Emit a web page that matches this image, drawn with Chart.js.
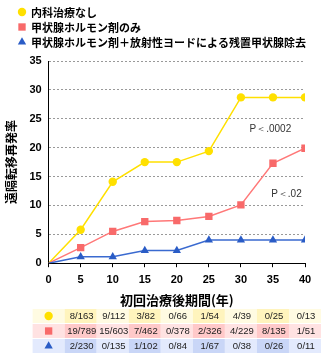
<!DOCTYPE html>
<html>
<head>
<meta charset="utf-8">
<script src="https://cdn.jsdelivr.net/npm/chart.js@4/dist/chart.umd.min.js"></script>
<style>
  html, body { margin: 0; padding: 0; background: #fff; }
  #wrap { width: 327px; height: 357px; position: relative; }
</style>
</head>
<body>
<div id="wrap"><canvas id="chart" width="327" height="357"></canvas></div>
<script>
const years = [0, 5, 10, 15, 20, 25, 30, 35, 40];
const seriesNames = ['内科治療なし', '甲状腺ホルモン剤のみ', '甲状腺ホルモン剤＋放射性ヨードによる残置甲状腺除去'];
const noTreatment = [0, 5.8, 14.1, 17.5, 17.5, 19.4, 28.7, 28.7, 28.7];
const hormoneOnly = [0, 2.7, 5.5, 7.2, 7.4, 8.1, 10.1, 17.3, 19.9];
const hormoneIodine = [0, 1.1, 1.1, 2.2, 2.2, 4.0, 4.0, 4.0, 4.0];
const yTicks = [0, 5, 10, 15, 20, 25, 30, 35];

// patients at risk table (5..40 years)
const tableYears = [5, 10, 15, 20, 25, 30, 35, 40];
const noTreatmentCounts = ['8/163', '9/112', '3/82', '0/66', '1/54', '4/39', '0/25', '0/13'];
const hormoneOnlyCounts = ['19/789', '15/603', '7/462', '0/378', '2/326', '4/229', '8/135', '1/51'];
const hormoneIodineCounts = ['2/230', '0/135', '1/102', '0/84', '1/67', '0/38', '0/26', '0/11'];

const pNotes = [
    { text: 'P＜.0002', x: 34.6, y: 23.1 },
    { text: 'P＜.02', x: 37.1, y: 12.0 }
];

const colors = ['#ffe000', '#f86a6a', '#2a5cc6'];
const lineColors = ['#ffe000', '#ff7878', '#3a6ad0'];
const styles = ['circle', 'rect', 'triangle'];
const radii = [4.2, 5.2, 4.8];
const rowBg = [['#fffbe2', '#fff4bd'], ['#ffe2e2', '#ffc9c9'], ['#e3eafd', '#c9d6f7']];

const jp = "'Noto Sans CJK JP', sans-serif";
const num = "'Liberation Sans', Arial, sans-serif";

const extras = {
    id: 'extras',
    afterDraw(chart) {
        const ctx = chart.ctx;
        const x = chart.scales.x, y = chart.scales.y;
        const H = Chart.helpers;
        ctx.save();

        // legend
        seriesNames.forEach((name, i) => {
            const cy = 12 + i * 15;
            ctx.fillStyle = colors[i];
            ctx.strokeStyle = colors[i];
            H.drawPoint(ctx, { pointStyle: styles[i], radius: radii[i], rotation: 0, borderWidth: 0 }, 22, cy);
            ctx.fillStyle = '#000';
            ctx.font = 'bold 11px ' + jp;
            ctx.textAlign = 'left';
            ctx.textBaseline = 'middle';
            ctx.fillText(name, 31, cy + 1);
        });

        // p-values
        ctx.font = '10px ' + num;
        ctx.fillStyle = '#333';
        ctx.textAlign = 'center';
        ctx.textBaseline = 'middle';
        pNotes.forEach(p => ctx.fillText(p.text, x.getPixelForValue(p.x), y.getPixelForValue(p.y)));

        // table
        const rows = [noTreatmentCounts, hormoneOnlyCounts, hormoneIodineCounts];
        const colW = x.getPixelForValue(5) - x.getPixelForValue(0);
        rows.forEach((row, r) => {
            const top = 309 + r * 15;
            const h = 14;
            years.forEach((yr, c) => {
                const cx = x.getPixelForValue(yr);
                ctx.fillStyle = rowBg[r][c % 2];
                ctx.fillRect(cx - colW / 2, top, colW, h);
            });
            ctx.fillStyle = colors[r];
            ctx.strokeStyle = colors[r];
            H.drawPoint(ctx, { pointStyle: styles[r], radius: radii[r], rotation: 0, borderWidth: 0 }, x.getPixelForValue(0), top + h / 2);
            ctx.fillStyle = '#222';
            ctx.font = '9.5px ' + num;
            ctx.textAlign = 'center';
            ctx.textBaseline = 'middle';
            row.forEach((t, c) => ctx.fillText(t, x.getPixelForValue(tableYears[c]) + 1, top + h / 2 + 0.5));
        });
        ctx.restore();
    }
};

function makeSet(i, data) {
    return {
        label: seriesNames[i],
        data: years.map((yr, k) => ({ x: yr, y: data[k] })),
        borderColor: lineColors[i],
        backgroundColor: colors[i],
        borderWidth: 1.5,
        pointStyle: years.map((yr, k) => k === 0 ? false : styles[i]),
        pointRadius: radii[i],
        pointBorderWidth: 0,
        tension: 0
    };
}

new Chart(document.getElementById('chart'), {
    type: 'line',
    data: {
        datasets: [
            makeSet(2, hormoneIodine),
            makeSet(1, hormoneOnly),
            makeSet(0, noTreatment)
        ]
    },
    options: {
        responsive: false,
        animation: false,
        layout: { padding: { top: 61, right: 22, bottom: 49, left: 4 } },
        plugins: {
            legend: { display: false },
            tooltip: { enabled: false }
        },
        scales: {
            x: {
                type: 'linear',
                min: 0,
                max: 40,
                ticks: { stepSize: 5, color: '#000', font: { family: num, size: 11, weight: 'bold' }, padding: 6 },
                grid: { drawOnChartArea: false, drawTicks: true, tickLength: 4, color: '#000' },
                border: { color: '#000', width: 1 },
                title: { display: true, text: '初回治療後期間(年)', color: '#000', font: { family: jp, size: 13, weight: 'bold' }, padding: { top: 0, bottom: 0 } }
            },
            y: {
                min: 0,
                max: 35,
                afterBuildTicks: s => { s.ticks = yTicks.map(v => ({ value: v })); },
                ticks: { color: '#000', font: { family: num, size: 11, weight: 'bold' }, padding: 7 },
                grid: { drawTicks: false, color: '#999', lineWidth: 1 },
                border: { color: '#000', width: 1, dash: [2, 2] },
                title: { display: true, text: '遠隔転移再発率', color: '#000', font: { family: jp, size: 12, weight: 'bold' }, padding: { top: 0, bottom: 4 } }
            }
        }
    },
    plugins: [extras]
});
</script>
</body>
</html>
